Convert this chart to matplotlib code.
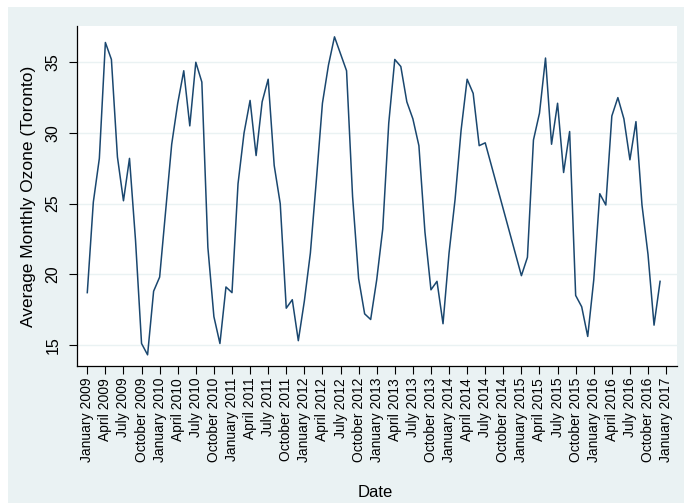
import numpy as np
import pandas as pd
import matplotlib
matplotlib.use("Agg")
import matplotlib.pyplot as plt
from matplotlib.patches import Rectangle

plt.rcParams["font.family"] = ["Liberation Sans", "DejaVu Sans"]

# monthly average ozone, Toronto (Aug-Dec 2014 not reported)
months = pd.period_range("2009-01", "2016-12", freq="M")
ozone = [
    18.7, 25.1, 28.2, 36.4, 35.2, 28.3, 25.2, 28.2, 22.4, 15.1, 14.3, 18.8,   # 2009
    19.8, 24.5, 29.2, 32.1, 34.4, 30.5, 35.0, 33.6, 21.9, 17.0, 15.1, 19.1,   # 2010
    18.7, 26.4, 30.0, 32.3, 28.4, 32.2, 33.8, 27.7, 25.0, 17.6, 18.2, 15.3,   # 2011
    18.1, 21.5, 26.7, 32.1, 34.8, 36.8, 35.6, 34.4, 25.5, 19.7, 17.2, 16.8,   # 2012
    19.6, 23.2, 30.7, 35.2, 34.7, 32.2, 31.0, 29.1, 23.0, 18.9, 19.5, 16.5,   # 2013
    21.5, 25.3, 30.2, 33.8, 32.8, 29.1, 29.3, None, None, None, None, None,   # 2014
    19.9, 21.2, 29.5, 31.4, 35.3, 29.2, 32.1, 27.2, 30.1, 18.5, 17.7, 15.6,   # 2015
    19.6, 25.7, 24.9, 31.2, 32.5, 31.0, 28.1, 30.8, 24.9, 21.4, 16.4, 19.5,   # 2016
]
yticks = [15, 20, 25, 30, 35]
xtick_months = pd.period_range("2009-01", "2017-01", freq="3M")

BG = "#EAF2F3"
LINE = "#1A476F"

d = pd.DataFrame({"month": months, "ozone": pd.to_numeric(pd.Series(ozone), errors="coerce")})
d = d.dropna()
start = months[0].ordinal
d["t"] = [p.ordinal - start for p in d["month"]]
tick_pos = [p.ordinal - start for p in xtick_months]
tick_lab = [p.strftime("%B %Y") for p in xtick_months]

fig = plt.figure(figsize=(6.84, 5.03), dpi=100)
fig.patch.set_facecolor("white")
bg = Rectangle((8 / 684, 0), 1 - 8 / 684, 1 - 7 / 503, transform=fig.transFigure,
               facecolor=BG, edgecolor="none", zorder=-10)
fig.add_artist(bg)

ax = fig.add_axes([0.1121, 0.2724, 0.8776, 0.676])
ax.set_zorder(1)
ax.set_facecolor("white")
ax.plot(d["t"], d["ozone"], color=LINE, lw=1.1, zorder=3)

ax.set_xlim(-1.76, 97.8)
ax.set_ylim(13.51, 37.57)
ax.set_yticks(yticks)
ax.set_yticklabels([str(v) for v in yticks], rotation=90, va="center", fontsize=11.5)
ax.set_xticks(tick_pos)
ax.set_xticklabels(tick_lab, rotation=90, fontsize=10)
ax.tick_params(axis="both", direction="out", length=5.5, width=0.8, color="black")
ax.tick_params(axis="y", pad=6)
ax.tick_params(axis="x", pad=3)
ax.grid(axis="y", color=BG, lw=1.0, zorder=1)
ax.set_axisbelow(True)

for s in ["top", "right"]:
    ax.spines[s].set_visible(False)
for s in ["left", "bottom"]:
    ax.spines[s].set_linewidth(0.9)
    ax.spines[s].set_color("black")

ax.set_ylabel("Average Monthly Ozone (Toronto)", fontsize=12.5)
ax.yaxis.set_label_coords(-0.068, 0.5)
ax.set_xlabel("Date", fontsize=12)
ax.xaxis.set_label_coords(0.497, -0.35)

fig.savefig("out.png", dpi=100)
